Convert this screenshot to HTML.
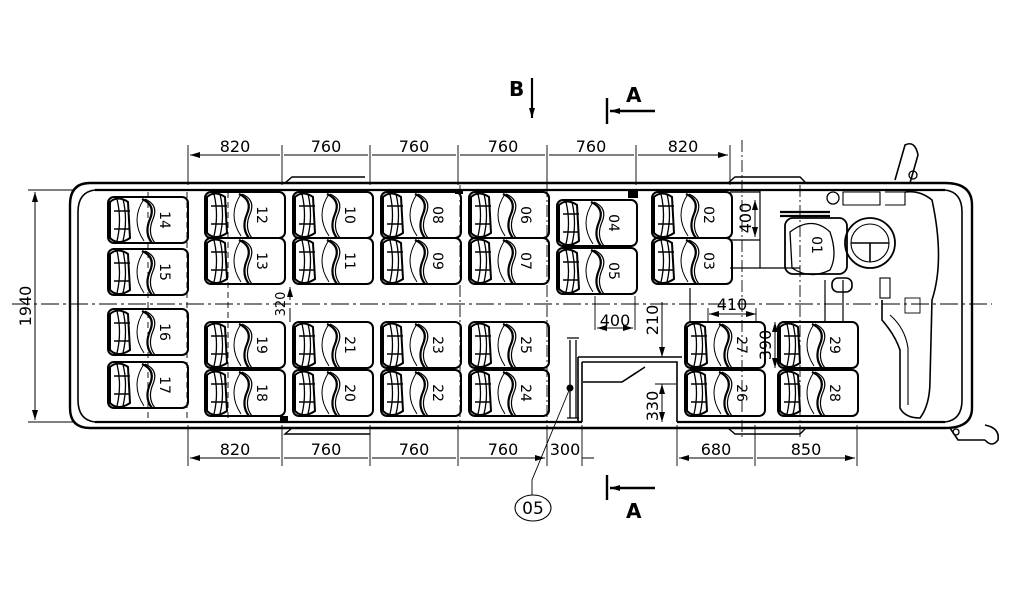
<!DOCTYPE html>
<html><head><meta charset="utf-8"><style>
html,body{margin:0;padding:0;background:#fff;}
svg{display:block;}
text{font-family:"DejaVu Sans","Liberation Sans",sans-serif;fill:#000;}
</style></head><body>
<svg width="1029" height="598" viewBox="0 0 1029 598" xmlns="http://www.w3.org/2000/svg">
<defs>
<marker id="ar" markerWidth="10" markerHeight="6" refX="10" refY="3" orient="auto" markerUnits="userSpaceOnUse"><path d="M0,0 L10,3 L0,6 Z" fill="#000"/></marker>
<marker id="al" markerWidth="10" markerHeight="6" refX="0" refY="3" orient="auto" markerUnits="userSpaceOnUse"><path d="M10,0 L0,3 L10,6 Z" fill="#000"/></marker>
<g id="seat" fill="none" stroke="#000">
  <rect x="0" y="0" width="80" height="46" rx="6" stroke-width="2"/>
  <path d="M2,5 Q10,-2 20,5 L22,41 Q10,49 2,41 Z" stroke-width="2"/>
  <path d="M9,2 Q14,23 9,44 M15,2 Q20,23 15,44" stroke-width="1.3"/>
  <path d="M6,14 H22 M6,32 H22" stroke-width="1.4"/>
  <path d="M36,2 Q22,23 36,44" stroke-width="1"/>
  <path d="M34,2 Q48,8 42,22 Q36,36 44,46" stroke-width="2.2"/>
  <path d="M37,2 Q51,8 45,22 Q39,36 47,46" stroke-width="1.2"/>
</g>
</defs>
<g fill="none" stroke="#000">
<path d="M90,183 H945 Q972,183 972,205 V408 Q972,428 945,428 H90 Q70,428 70,408 V205 Q70,183 90,183 Z" stroke-width="2.4"/>
<path d="M95,190 H945 M95,422 H582 M677,422 H945" stroke-width="2.2"/>
<path d="M95,190 Q78,192 78,212 V400 Q78,420 95,422" stroke-width="1.6"/>
<path d="M945,190 Q962,192 962,212 V400 Q962,420 945,422" stroke-width="1.6"/>
<path d="M285,183 L292,177 H365 M292,428 L285,434 H370" stroke-width="1.4"/>
<path d="M728,183 L735,177 H800 L806,183 M728,428 L735,434 H800 L806,428" stroke-width="1.4"/>
<path d="M12,304 H992" stroke-width="1" stroke-dasharray="18,4,3,4"/>
<path d="M148,192 V420 M228,192 V420 M187,192 V420" stroke-width="0.9" stroke-dasharray="6,4"/>
<path d="M460,185 V422 M547,185 V422 M742,140 V440 M800,185 V440" stroke-width="0.9" stroke-dasharray="12,3,2,3"/>
<path d="M28,190 H75 M28,422 H75" stroke-width="0.9"/>
<path d="M35,192 V420" stroke-width="1" marker-start="url(#al)" marker-end="url(#ar)"/>
<path d="M188,185 V145 M282,185 V145 M370,185 V145 M458,185 V145 M547,185 V145 M636,185 V145 M730,185 V145" stroke-width="0.9"/>
<path d="M190,155 H280 M284,155 H368 M372,155 H456 M460,155 H545 M549,155 H634 M638,155 H728" stroke-width="1" marker-start="url(#al)" marker-end="url(#ar)"/>
<path d="M188,425 V466 M282,425 V466 M370,425 V466 M458,425 V466 M547,425 V466 M582,425 V466 M677,425 V466 M755,425 V466 M857,425 V466" stroke-width="0.9"/>
<path d="M190,458 H280 M284,458 H368 M372,458 H456 M460,458 H545" stroke-width="1" marker-start="url(#al)" marker-end="url(#ar)"/>
<path d="M535,458 H545 M582,458 H594" stroke-width="1"/>
<path d="M679,458 H753 M757,458 H855" stroke-width="1" marker-start="url(#al)" marker-end="url(#ar)"/>
<path d="M578,357 H682 M578,357 V422 M582,362 V422 M582,362 H677 V422 M583,382 H622 L645,367" stroke-width="1.6"/>
<path d="M570,340 V418 M576,340 V418 M567,338 h12 M567,418 h12" stroke-width="1.3"/>
<circle cx="570" cy="388" r="3" fill="#000"/>
<path d="M570,388 L532,480 V495" stroke-width="0.9"/>
<ellipse cx="533" cy="508" rx="18" ry="13" stroke-width="1.1"/>
<path d="M662,302 V357" stroke-width="1" marker-end="url(#ar)"/>
<path d="M662,384 V422" stroke-width="1" marker-start="url(#al)" marker-end="url(#ar)"/>
<path d="M655,384 H676" stroke-width="0.9"/>
<path d="M595,296 V330 M635,296 V330" stroke-width="0.9"/>
<path d="M597,328 H633" stroke-width="1" marker-start="url(#al)" marker-end="url(#ar)"/>
<path d="M755,200 V237" stroke-width="1" marker-start="url(#al)" marker-end="url(#ar)"/>
<path d="M730,192 H760 M730,240 H760 M760,190 V268 M730,268 H800" stroke-width="1.2"/>
<path d="M709,314 H756" stroke-width="1" marker-start="url(#al)" marker-end="url(#ar)"/>
<path d="M708,308 V322 M756,308 V322" stroke-width="0.9"/>
<path d="M775,322 V368" stroke-width="1" marker-start="url(#al)" marker-end="url(#ar)"/>
<path d="M290,287 V300 M290,308 V322" stroke-width="1"/>
<path d="M290,292 V287" marker-end="url(#ar)" stroke-width="1"/>
<path d="M690,288 V322 M825,280 V322 M843,280 V322" stroke-width="1.2"/>
<rect x="785" y="218" width="62" height="56" rx="8" stroke-width="1.8"/>
<path d="M790,232 Q812,215 830,232 Q838,255 830,270 Q810,280 792,268 Z" stroke-width="1.3"/>
<path d="M780,212 H830 M780,216 H830" stroke-width="2.2"/>
<circle cx="870" cy="243" r="25" stroke-width="1.8"/>
<circle cx="870" cy="243" r="19" stroke-width="1.1"/>
<path d="M851,243 H889 M870,243 V262" stroke-width="1.6"/>
<path d="M843,192 H880 V205 H843 Z M885,192 H905 V205 H885" stroke-width="1.1"/>
<circle cx="833" cy="198" r="6" stroke-width="1.3"/>
<rect x="832" y="278" width="20" height="14" rx="6" stroke-width="1.6"/>
<rect x="880" y="278" width="10" height="20" stroke-width="1.1"/>
<path d="M882,300 V320 Q895,335 900,350 V408 Q905,418 920,418 Q930,405 930,380 L932,300 Q945,260 932,200 Q920,190 905,192" stroke-width="1.6"/>
<path d="M890,315 Q905,328 908,348 V405" stroke-width="1.1"/>
<rect x="905" y="298" width="15" height="15" stroke-width="0.9"/>
<path d="M895,180 L905,145 Q915,140 918,155 L910,183" stroke-width="1.6"/>
<circle cx="913" cy="175" r="4" stroke-width="1.3"/>
<path d="M950,428 L958,440 H985 M985,425 Q1000,428 998,440 Q992,448 985,440" stroke-width="1.6"/>
<circle cx="956" cy="432" r="3" stroke-width="1.3"/>
<path d="M532,78 V118" stroke-width="2.2" marker-end="url(#ar)"/>
<path d="M607,98 V124 M655,111 H610" stroke-width="2.4" marker-end="url(#ar)"/>
<path d="M607,475 V500 M655,488 H610" stroke-width="2.4" marker-end="url(#ar)"/>
</g>
<g fill="#000"><rect x="628" y="190" width="10" height="8"/><rect x="455" y="190" width="8" height="4"/><rect x="280" y="416" width="8" height="5"/></g>
<g>
<use href="#seat" x="205" y="192"/><use href="#seat" x="205" y="238"/>
<use href="#seat" x="293" y="192"/><use href="#seat" x="293" y="238"/>
<use href="#seat" x="381" y="192"/><use href="#seat" x="381" y="238"/>
<use href="#seat" x="469" y="192"/><use href="#seat" x="469" y="238"/>
<use href="#seat" x="557" y="200"/><use href="#seat" x="557" y="248"/>
<use href="#seat" x="652" y="192"/><use href="#seat" x="652" y="238"/>
<use href="#seat" x="205" y="322"/><use href="#seat" x="205" y="370"/>
<use href="#seat" x="293" y="322"/><use href="#seat" x="293" y="370"/>
<use href="#seat" x="381" y="322"/><use href="#seat" x="381" y="370"/>
<use href="#seat" x="469" y="322"/><use href="#seat" x="469" y="370"/>
<use href="#seat" x="685" y="322"/><use href="#seat" x="685" y="370"/>
<use href="#seat" x="778" y="322"/><use href="#seat" x="778" y="370"/>
<use href="#seat" x="108" y="197"/><use href="#seat" x="108" y="249"/>
<use href="#seat" x="108" y="309"/><use href="#seat" x="108" y="362"/>
</g>
<g font-size="16" text-anchor="middle">
<text x="235" y="152">820</text><text x="326" y="152">760</text><text x="414" y="152">760</text><text x="503" y="152">760</text><text x="591" y="152">760</text><text x="683" y="152">820</text>
<text x="235" y="455">820</text><text x="326" y="455">760</text><text x="414" y="455">760</text><text x="503" y="455">760</text><text x="565" y="455">300</text><text x="716" y="455">680</text><text x="806" y="455">850</text>
<text x="615" y="326">400</text><text x="732" y="310">410</text>
<text x="533" y="514" font-size="17">05</text>
</g>
<g font-size="16" text-anchor="middle">
<text transform="translate(31,306) rotate(-90)">1940</text>
<text transform="translate(285,304) rotate(-90)" font-size="13">320</text>
<text transform="translate(658,320) rotate(-90)">210</text>
<text transform="translate(658,406) rotate(-90)">330</text>
<text transform="translate(751,218) rotate(-90)">400</text>
<text transform="translate(771,345) rotate(-90)">390</text>
</g>
<g font-size="20" font-weight="bold" font-family="Liberation Sans,sans-serif">
<text x="509" y="96">B</text><text x="626" y="102">A</text><text x="626" y="518">A</text>
</g>
<g font-size="14" text-anchor="middle">
<text transform="translate(257,215) rotate(90)">12</text><text transform="translate(257,261) rotate(90)">13</text>
<text transform="translate(345,215) rotate(90)">10</text><text transform="translate(345,261) rotate(90)">11</text>
<text transform="translate(433,215) rotate(90)">08</text><text transform="translate(433,261) rotate(90)">09</text>
<text transform="translate(521,215) rotate(90)">06</text><text transform="translate(521,261) rotate(90)">07</text>
<text transform="translate(609,223) rotate(90)">04</text><text transform="translate(609,271) rotate(90)">05</text>
<text transform="translate(704,215) rotate(90)">02</text><text transform="translate(704,261) rotate(90)">03</text>
<text transform="translate(257,345) rotate(90)">19</text><text transform="translate(257,393) rotate(90)">18</text>
<text transform="translate(345,345) rotate(90)">21</text><text transform="translate(345,393) rotate(90)">20</text>
<text transform="translate(433,345) rotate(90)">23</text><text transform="translate(433,393) rotate(90)">22</text>
<text transform="translate(521,345) rotate(90)">25</text><text transform="translate(521,393) rotate(90)">24</text>
<text transform="translate(737,345) rotate(90)">27</text><text transform="translate(737,393) rotate(90)">26</text>
<text transform="translate(830,345) rotate(90)">29</text><text transform="translate(830,393) rotate(90)">28</text>
<text transform="translate(160,220) rotate(90)">14</text><text transform="translate(160,272) rotate(90)">15</text>
<text transform="translate(160,332) rotate(90)">16</text><text transform="translate(160,385) rotate(90)">17</text>
<text transform="translate(812,245) rotate(90)">01</text>
</g>
</svg>
</body></html>
